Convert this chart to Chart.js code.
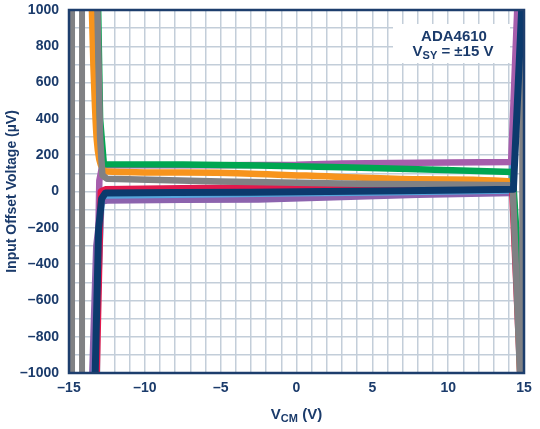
<!DOCTYPE html>
<html>
<head>
<meta charset="utf-8">
<script src="https://cdn.jsdelivr.net/npm/chart.js@4.4.0/dist/chart.umd.min.js"></script>
<style>
  html, body { margin: 0; padding: 0; background: #fff; }
  #wrap { width: 540px; height: 429px; position: relative; }
</style>
</head>
<body>
<div id="wrap"><canvas id="vos"></canvas></div>
<script>
// tick labels
const xTickLabels = [-15, -10, -5, 0, 5, 10, 15];
const yTickLabels = [-1000, -800, -600, -400, -200, 0, 200, 400, 600, 800, 1000];

// curves: VCM (V) and input offset voltage (uV)
const navyV = [-13.3, -13.05, -12.85, -12.6, -8, -3, 2, 7, 11, 14.3, 14.9];
const navyU = [-1100, -210, -40, -8, -6, -4, 0, 4, 8, 12, 1100];

const grayV = [-13.15, -12.95, -12.8, -12.5, -5, 0, 5, 10, 14.25, 14.78];
const grayU = [1100, 300, 90, 70, 55, 48, 42, 38, 35, -1100];

const greenV = [-13.1, -12.95, -12.7, -7.5, -2.5, 3, 8, 14.25, 14.6, 14.8];
const greenU = [1100, 400, 150, 149, 143, 133, 122, 108, -360, -1100];

const orangeV = [-13.52, -13.39, -13.28, -13.17, -13.0, -12.73, -12.5, -7.5, -2.5, 3, 8, 14.2, 14.8];
const orangeU = [1100, 692, 455, 287, 176, 121, 110, 104, 97, 80, 68, 55, -1100];

const redV = [-13.2, -12.9, -12.6, -7.5, -2.5, 3, 8, 14.2, 14.8];
const redU = [-1100, 0, 12, 18, 22, 28, 38, 50, -1100];

const purpleHiV = [-13.25, -13.0, -12.8, -5, 0, 3, 8, 14.15, 14.6];
const purpleHiU = [-1100, 60, 145, 145, 147, 154, 158, 162, 1100];

const purpleLoV = [-13.5, -13.2, -12.85, -12.5, -7.5, -2.5, 3, 8, 14.15, 14.85];
const purpleLoU = [-1100, -300, -55, -50, -46, -44, -30, -18, -8, 1100];

const blueV = [-13.35, -12.85, -12.5, -5, 0, 5, 14.15, 14.85];
const blueU = [-1100, -25, -22, -15, -10, -5, 5, 1100];

// near-vertical gray curves at the rails
const rail1V = [-14.8, -14.8];
const rail2V = [-14.14, -14.14];
const rail3V = [14.88, 14.88];
const railU = [-1100, 1100];

const TEXT = "#1b3b6b";
const GRID = "#c3ced9";
const FONT = '"Liberation Sans", Arial, sans-serif';

function pts(vs, us) {
  return vs.map((v, i) => ({ x: v, y: us[i] }));
}
function fmt(v) {
  return v < 0 ? "\u2013" + Math.abs(v) : String(v);
}
function curve(vs, us, color, width, smooth) {
  return {
    data: pts(vs, us),
    borderColor: color,
    borderWidth: width,
    pointRadius: 0,
    fill: false,
    clip: 0,
    borderJoinStyle: "round",
    cubicInterpolationMode: smooth ? "monotone" : "default",
    tension: 0,
  };
}

// draw text runs like [text, size, dy] centred on cx
function runs(ctx, parts, cx, cy) {
  let total = 0;
  parts.forEach(p => { ctx.font = "bold " + p[1] + "px " + FONT; total += ctx.measureText(p[0]).width; });
  let x = cx - total / 2;
  ctx.textAlign = "left";
  ctx.textBaseline = "middle";
  parts.forEach(p => {
    ctx.font = "bold " + p[1] + "px " + FONT;
    ctx.fillText(p[0], x, cy + p[2]);
    x += ctx.measureText(p[0]).width;
  });
}

const frame = {
  id: "frame",
  beforeDatasetsDraw(chart) {
    const a = chart.chartArea, ctx = chart.ctx;
    ctx.save();
    ctx.fillStyle = "#fff";
    ctx.fillRect(a.right - 131, a.top + 14, 117, 39);
    ctx.restore();
  },
  afterDatasetsDraw(chart) {
    const a = chart.chartArea, ctx = chart.ctx;
    ctx.save();
    ctx.strokeStyle = "#1d3e6d";
    ctx.lineWidth = 2.5;
    ctx.strokeRect(a.left, a.top, a.right - a.left, a.bottom - a.top);
    ctx.restore();
  },
  afterDraw(chart) {
    const a = chart.chartArea, ctx = chart.ctx;
    ctx.save();
    ctx.fillStyle = TEXT;
    // annotation
    runs(ctx, [["ADA4610", 15, 0]], a.right - 70, a.top + 27);
    runs(ctx, [["V", 15, 0], ["SY", 11, 4], [" = \u00b115 V", 15, 0]], a.right - 71, a.top + 42);
    // x title
    runs(ctx, [["V", 15, 0], ["CM", 11, 4], [" (V)", 15, 0]], (a.left + a.right) / 2, 415);
    // y title
    ctx.translate(12, (a.top + a.bottom) / 2);
    ctx.rotate(-Math.PI / 2);
    runs(ctx, [["Input Offset Voltage (\u00b5V)", 14, 0]], 0, 0);
    ctx.restore();
  },
};

new Chart(document.getElementById("vos"), {
  type: "line",
  data: {
    datasets: [
      curve(navyV, navyU, "#0c3a6d", 7),
      curve(rail3V, railU, "#808184", 6),
      curve(grayV, grayU, "#808184", 6.5),
      curve(greenV, greenU, "#00a651", 6.5),
      curve(orangeV, orangeU, "#f7941d", 6.5, true),
      curve(redV, redU, "#e2184c", 6.5),
      curve(purpleHiV, purpleHiU, "#a65eac", 6.5),
      curve(blueV, blueU, "#55a6dc", 6.5),
      curve(purpleLoV, purpleLoU, "#8c63ae", 6.5),
      curve(rail1V, railU, "#808184", 6),
      curve(rail2V, railU, "#808184", 6),
    ],
  },
  options: {
    responsive: true,
    maintainAspectRatio: false,
    animation: false,
    layout: { padding: { top: 10, right: 16, bottom: 0, left: 0 } },
    plugins: { legend: { display: false }, tooltip: { enabled: false } },
    scales: {
      x: {
        type: "linear",
        min: -15,
        max: 15,
        border: { display: false },
        grid: { color: GRID, lineWidth: 1.5, drawTicks: false },
        ticks: {
          stepSize: 1,
          autoSkip: false,
          maxRotation: 0,
          padding: 7,
          color: TEXT,
          font: { family: FONT, size: 14, weight: "bold" },
          callback: v => (xTickLabels.includes(v) ? fmt(v) : ""),
        },
        afterFit(s) { s.height = 56; s.paddingLeft = 0; s.paddingRight = 0; },
      },
      y: {
        min: -1000,
        max: 1000,
        border: { display: false },
        grid: { color: GRID, lineWidth: 1.5, drawTicks: false },
        ticks: {
          stepSize: 100,
          autoSkip: false,
          padding: 10,
          color: TEXT,
          font: { family: FONT, size: 14, weight: "bold" },
          callback: v => (yTickLabels.includes(v) ? fmt(v) : ""),
        },
        afterFit(s) { s.width = 69; s.paddingTop = 0; s.paddingBottom = 0; },
      },
    },
  },
  plugins: [frame],
});
</script>
</body>
</html>
